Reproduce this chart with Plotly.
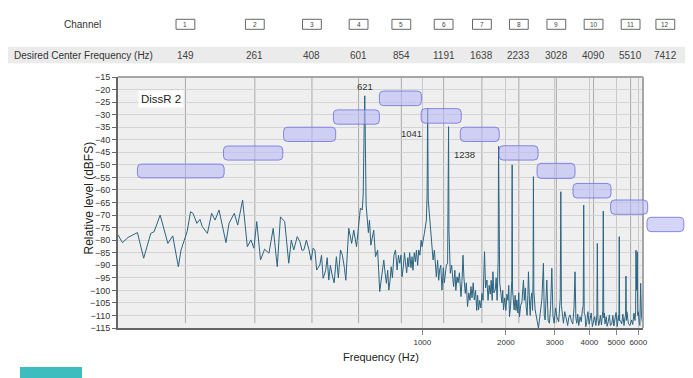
import math
import plotly.graph_objects as go

# ---------------- data ----------------
channels = ["1", "2", "3", "4", "5", "6", "7", "8", "9", "10", "11", "12"]
center_freq_labels = ["149", "261", "408", "601", "854", "1191", "1638",
                      "2233", "3028", "4090", "5510", "7412"]
# frequencies of the dark band grid lines / table columns
band_grid_hz = [140, 249, 400, 589, 840, 1193, 1639, 2227, 3040, 4140, 5630, 7510]

# spectrum, low part (80-600 Hz)
spec_low_hz = [80, 83, 87, 94, 99, 105, 108, 113.5, 121, 126,
               132, 135, 142, 146, 149, 154, 158, 161, 168, 174,
               179, 185, 196, 201, 210, 216, 225, 234, 241, 247,
               253, 261, 270, 280, 290, 300, 308, 319, 330, 337,
               344, 354, 362, 368, 374, 382, 390, 397, 404, 410,
               416, 427, 433, 439, 448, 454, 460, 466, 473, 481,
               490, 498, 507, 515, 524, 530, 536, 543, 556, 566,
               579, 590, 598]
spec_low_db = [-77.9, -81.0, -78.9, -77.0, -87.2, -77.3, -76.6, -70.0, -81.3, -78.3,
               -90.6, -83.9, -76.6, -68.7, -69.3, -73.3, -71.7, -74.6, -77.3, -69.3,
               -72.0, -68.0, -81.0, -73.3, -69.3, -74.0, -64.0, -82.6, -79.9, -83.2,
               -72.6, -87.9, -83.6, -85.2, -75.3, -90.6, -70.7, -72.6, -89.2, -80.0,
               -83.9, -78.6, -80.6, -84.0, -83.9, -80.0, -83.6, -88.0, -83.2, -84.0,
               -91.9, -89.9, -86.0, -95.2, -92.2, -87.0, -95.9, -90.0, -93.9, -97.0,
               -86.6, -95.0, -83.9, -86.0, -91.2, -96.0, -85.9, -75.3, -81.3, -76.0,
               -82.6, -74.6, -67.2]

# spectrum, middle part (600-2550 Hz)
spec_mid_hz = [607, 612, 617, 620, 623, 627, 639, 645, 652, 659,
               668, 678, 690, 702, 709, 716, 726, 734, 742, 750,
               757, 765, 772, 780, 790, 800, 811, 820, 829, 837,
               845, 855, 862, 869, 878, 886, 893, 900, 910, 918,
               925, 935, 944, 952, 962, 970, 980, 990, 997, 1017,
               1034, 1040, 1045, 1050, 1069, 1080, 1093, 1105, 1115, 1123,
               1135, 1145, 1154, 1165, 1177, 1190, 1200, 1210, 1220, 1233,
               1239, 1243, 1247, 1261, 1275, 1285, 1296, 1310, 1320, 1333,
               1345, 1360, 1378, 1390, 1401, 1412, 1428, 1440, 1455, 1470,
               1485, 1497, 1510, 1525, 1539, 1555, 1570, 1582, 1594, 1610,
               1625, 1640, 1655, 1675, 1690, 1709, 1725, 1740, 1757, 1770,
               1785, 1796, 1810, 1830, 1845, 1860, 1876, 1882, 1888, 1900,
               1919, 1935, 1948, 1961, 1980, 2000, 2017, 2035, 2048, 2061,
               2080, 2100, 2107, 2114, 2142, 2160, 2175, 2191, 2210, 2225,
               2239, 2260, 2284, 2314, 2330, 2350, 2366, 2385, 2400, 2412,
               2435, 2448, 2460, 2480, 2495, 2505, 2514, 2522]
spec_mid_db = [-68.0, -62.0, -35.0, -22.5, -40.0, -66.0, -77.0, -72.0, -82.0, -79.9,
               -76.0, -86.6, -84.0, -100.5, -96.0, -93.0, -87.9, -93.0, -97.2, -92.0,
               -99.9, -96.0, -90.6, -95.0, -86.0, -83.9, -91.9, -86.0, -89.2, -86.0,
               -94.6, -90.0, -85.0, -88.6, -93.0, -87.0, -90.6, -85.0, -91.0, -86.6,
               -92.0, -85.0, -88.6, -84.0, -90.0, -83.9, -86.0, -80.0, -82.6, -77.3,
               -72.0, -62.0, -27.5, -64.0, -74.6, -80.0, -87.9, -84.0, -90.0, -94.6,
               -88.0, -96.0, -91.9, -90.0, -99.9, -91.0, -97.0, -93.2, -90.0, -89.2,
               -70.0, -34.8, -76.0, -93.2, -90.0, -95.0, -98.5, -92.0, -100.0, -94.6,
               -97.0, -93.0, -102.5, -96.0, -86.0, -95.0, -101.2, -97.0, -106.5, -101.0,
               -104.0, -98.5, -103.0, -97.0, -103.8, -100.0, -108.0, -102.0, -107.8, -104.0,
               -107.0, -101.2, -104.0, -84.6, -99.0, -95.9, -104.0, -98.0, -101.5, -96.0,
               -104.0, -92.6, -101.0, -99.9, -95.0, -104.0, -88.0, -42.5, -92.0, -97.0,
               -101.2, -105.0, -100.0, -107.8, -103.0, -108.0, -101.5, -104.0, -98.0, -110.5,
               -106.0, -96.0, -50.0, -100.0, -107.8, -102.0, -108.0, -103.8, -109.0, -101.0,
               -110.5, -106.0, -104.8, -95.9, -104.0, -99.0, -106.5, -110.0, -102.0, -92.6,
               -106.0, -110.0, -103.8, -101.0, -108.0, -96.0, -54.7, -100.0]

# spectrum, high part (2550-6240 Hz)
spec_high_hz = [2550, 2585, 2620, 2660, 2695, 2731, 2750, 2770, 2809, 2840,
                2870, 2900, 2928, 2955, 2985, 3020, 3052, 3100, 3140, 3155,
                3170, 3200, 3224, 3260, 3315, 3340, 3370, 3407, 3440, 3484,
                3520, 3550, 3575, 3601, 3630, 3660, 3701, 3740, 3770, 3800,
                3815, 3830, 3860, 3880, 3912, 3950, 3990, 4021, 4060, 4100,
                4133, 4180, 4220, 4255, 4272, 4290, 4320, 4343, 4380, 4420,
                4470, 4488, 4505, 4530, 4552, 4600, 4630, 4678, 4720, 4760,
                4813, 4860, 4900, 4946, 4990, 5040, 5090, 5110, 5125, 5140,
                5170, 5228, 5280, 5330, 5370, 5400, 5418, 5435, 5460, 5523,
                5600, 5680, 5730, 5789, 5840, 5870, 5886, 5920, 5950, 5975,
                6000, 6049, 6080, 6119, 6160, 6221]
spec_high_db = [-107.8, -112.5, -115.0, -109.0, -103.8, -89.2, -110.0, -111.8, -95.9, -112.0,
                -113.1, -106.0, -91.2, -110.0, -113.1, -107.0, -110.5, -112.5, -103.0, -60.7,
                -106.0, -110.0, -113.1, -108.5, -111.8, -114.0, -110.8, -109.8, -112.0, -113.4,
                -107.0, -92.6, -111.0, -113.1, -109.5, -114.0, -110.5, -112.5, -108.0, -106.0,
                -66.0, -109.0, -110.0, -114.5, -112.8, -108.5, -113.5, -111.2, -109.0, -114.5,
                -113.1, -110.5, -114.0, -110.0, -81.3, -111.0, -114.0, -113.1, -110.0, -113.8,
                -108.0, -68.4, -111.0, -109.0, -113.4, -110.5, -114.3, -112.5, -109.8, -114.0,
                -113.4, -110.0, -114.2, -111.8, -108.8, -114.4, -110.0, -112.0, -78.6, -112.0,
                -112.0, -113.4, -109.5, -114.0, -111.0, -110.0, -94.3, -112.0, -108.5, -113.1,
                -114.0, -111.8, -113.6, -109.1, -112.0, -108.0, -84.0, -100.0, -84.6, -110.0,
                -108.5, -113.1, -114.0, -97.2, -110.0, -113.4]

# target boxes per channel
box_lo_hz = [94, 192, 316, 478, 700, 990, 1370, 1890, 2590, 3490, 4770, 6450]
box_hi_hz = [193, 314, 487, 700, 992, 1381, 1892, 2612, 3549, 4786, 6487, 8757]
box_top_db = [-49.7, -42.5, -35.0, -28.1, -20.6, -27.6, -35.0, -42.4, -49.4, -57.4, -64.0, -70.9]
box_bot_db = [-55.2, -48.1, -40.7, -33.8, -26.4, -33.4, -40.7, -48.1, -55.4, -63.2, -69.7, -76.6]

peak_labels = ["621", "1041", "1238"]
peak_hz = [621, 1041, 1238]
peak_db = [-22.5, -27.5, -34.8]

x_ticks = [1000, 2000, 3000, 4000, 5000, 6000]
x_ticktext = ["1000", "2000", "3000", "4000", "5000", "6000"]
x_range_hz = [80, 6240]
y_range_db = [-115, -15]
y_ticks = list(range(-115, -10, 5))

spec_hz = spec_low_hz + spec_mid_hz + spec_high_hz
spec_db = spec_low_db + spec_mid_db + spec_high_db

# ---------------- layout helpers ----------------
W, H = 693, 378
PAGE_OFF = 8                      # default body margin of the page
REF_L, REF_T = 118, 77            # plot-area corner in the page
PW, PH = 525, 251
ML, MT = REF_L - PAGE_OFF, REF_T - PAGE_OFF
MR, MB = W - ML - PW, H - MT - PH
LX0, LX1 = math.log10(x_range_hz[0]), math.log10(x_range_hz[1])
FONT = "Arial, Liberation Sans, sans-serif"


def xp(f):
    return (math.log10(f) - LX0) / (LX1 - LX0)


def yp(db):
    return (db - y_range_db[0]) / (y_range_db[1] - y_range_db[0])


def pgx(px):      # page pixel -> paper x
    return (px - REF_L) / PW


def pgy(py):      # page pixel -> paper y
    return (REF_T + PH - py) / PH


def rounded_path(x0, x1, y0, y1, r=4):
    rx, ry = r / PW, r / PH
    return (f"M {x0+rx},{y0} L {x1-rx},{y0} Q {x1},{y0} {x1},{y0+ry} "
            f"L {x1},{y1-ry} Q {x1},{y1} {x1-rx},{y1} L {x0+rx},{y1} "
            f"Q {x0},{y1} {x0},{y1-ry} L {x0},{y0+ry} Q {x0},{y0} {x0+rx},{y0} Z")


def label(text, x, y, size, color="#333", **kw):
    d = dict(text=text, xref="paper", yref="paper", x=x, y=y, xanchor="center",
             yanchor="middle", showarrow=False,
             font=dict(size=size, color=color, family=FONT))
    d.update(kw)
    return d


fig = go.Figure()
fig.add_trace(go.Scatter(x=spec_hz, y=spec_db, mode="lines",
                         line=dict(color="#2b6481", width=1),
                         hoverinfo="skip", showlegend=False))

shapes = []
annotations = []

# table band (row 2)
shapes.append(dict(type="rect", xref="paper", yref="paper",
                   x0=pgx(6), x1=pgx(690), y0=pgy(63.3), y1=pgy(46.7),
                   fillcolor="#ebebeb", line=dict(width=0), layer="below"))

# dark band grid lines (inside the plot)
for f in band_grid_hz:
    if x_range_hz[0] < f < x_range_hz[1]:
        shapes.append(dict(type="line", xref="x", yref="paper", x0=f, x1=f,
                           y0=0.02, y1=1, line=dict(color="#a8a8a8", width=1),
                           layer="between"))

# top/right border
shapes.append(dict(type="line", xref="paper", yref="paper", x0=0, x1=1, y0=1, y1=1,
                   line=dict(color="#a6a6a6", width=2), layer="above"))
shapes.append(dict(type="line", xref="paper", yref="paper", x0=1, x1=1, y0=0, y1=1,
                   line=dict(color="#a6a6a6", width=2), layer="above"))

# channel target boxes
for lo, hi, top, bot in zip(box_lo_hz, box_hi_hz, box_top_db, box_bot_db):
    shapes.append(dict(type="path", xref="paper", yref="paper",
                       path=rounded_path(xp(lo), xp(hi), yp(bot), yp(top)),
                       fillcolor="rgba(185,185,245,0.6)",
                       line=dict(color="rgba(110,110,225,0.8)", width=1),
                       layer="above"))

# table: channel boxes and frequencies
row1_y = pgy(24.3)
row2_y = pgy(55)
bw, bh = 9.4 / PW, 5 / PH
for ch, lab, f in zip(channels, center_freq_labels, band_grid_hz):
    cx = xp(f)
    shapes.append(dict(type="rect", xref="paper", yref="paper",
                       x0=cx - bw, x1=cx + bw, y0=row1_y - bh, y1=row1_y + bh,
                       fillcolor="white", line=dict(color="#666666", width=1)))
    annotations.append(label(ch, cx, row1_y, 6.5, "#444"))
    annotations.append(label(lab, cx, row2_y, 10, "#444"))

annotations.append(label("Channel", pgx(82), row1_y, 10))
annotations.append(label("Desired Center Frequency (Hz)", pgx(83), row2_y, 10))

# DissR 2 label
annotations.append(label("DissR 2", pgx(161), pgy(99.3), 11.5, "#222",
                         bgcolor="white", borderpad=2))

# peak labels
anchors = [("center", "bottom", 0, 2), ("right", "top", -3, -18), ("left", "top", 4, -20)]
for lab, f, db, (xa, ya, xs, ys) in zip(peak_labels, peak_hz, peak_db, anchors):
    annotations.append(dict(text=lab, xref="x", yref="y", x=math.log10(f), y=db,
                            xanchor=xa, yanchor=ya, xshift=xs, yshift=ys,
                            showarrow=False, font=dict(size=9.5, color="#333", family=FONT)))

# axis titles
annotations.append(label("Relative level (dBFS)", pgx(88), pgy(198.5), 12, "#222",
                         textangle=-90))
annotations.append(label("Frequency (Hz)", 0.5, pgy(357), 11, "#222"))

# teal button at bottom-left
shapes.append(dict(type="rect", xref="paper", yref="paper",
                   x0=pgx(20), x1=pgx(82), y0=pgy(382), y1=pgy(367),
                   fillcolor="#3dbdbd", line=dict(width=0)))

fig.update_layout(
    width=W, height=H,
    margin=dict(l=ML, r=MR, t=MT, b=MB),
    paper_bgcolor="white", plot_bgcolor="#efefef",
    font=dict(family=FONT, color="#333"),
    showlegend=False,
    shapes=shapes, annotations=annotations,
    xaxis=dict(type="log", range=[LX0, LX1], tickvals=x_ticks, ticktext=x_ticktext,
               showgrid=True, gridcolor="#c8c8c8", gridwidth=1, zeroline=False,
               showline=True, linecolor="#666", linewidth=2,
               ticks="outside", ticklen=5, tickcolor="#888",
               tickfont=dict(size=8, color="#333")),
    yaxis=dict(range=y_range_db, tickvals=y_ticks, showgrid=True, gridcolor="#d4d4d4",
               gridwidth=1, zeroline=False, showline=True, linecolor="#666", linewidth=2,
               ticks="outside", ticklen=4, tickcolor="#666",
               tickfont=dict(size=9, color="#333")),
)

fig.write_html("out.html")
